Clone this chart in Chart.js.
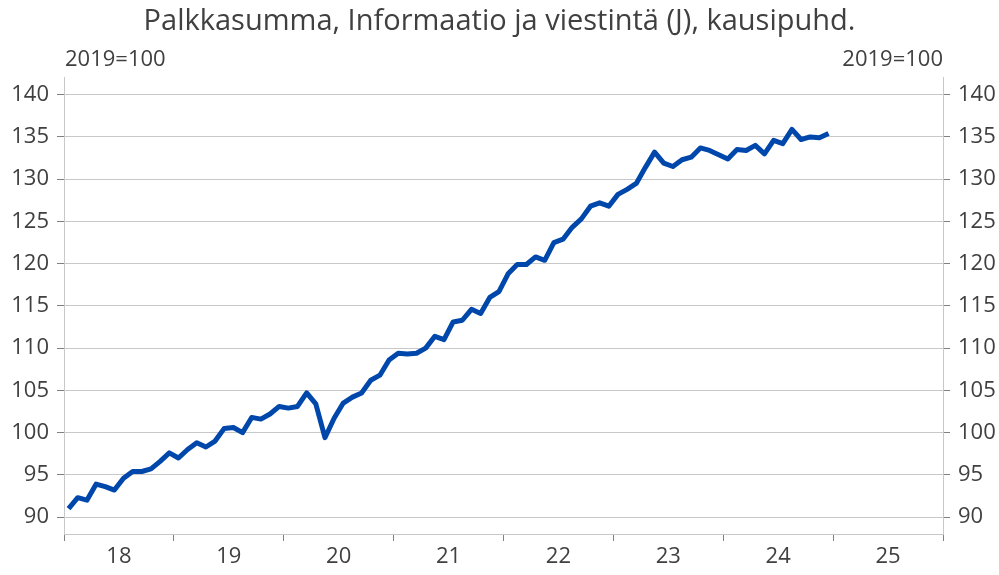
<!DOCTYPE html>
<html lang="fi">
<head>
  <meta charset="UTF-8">
  <title>Palkkasumma, Informaatio ja viestintä (J)</title>
  <script src="https://cdn.jsdelivr.net/npm/chart.js"></script>
  <style>
    html, body { margin: 0; padding: 0; background: #fff; }
    #wrap { width: 999px; height: 575px; }
  </style>
</head>
<body>
  <div id="wrap"><canvas id="palkkaChart" width="999" height="575"></canvas></div>

  <script>
    // monthly index values, Jan 2018 .. Dec 2024 (2019=100)
    const values = [
      91.0, 92.3, 92.0, 93.9, 93.6, 93.2, 94.6, 95.4, 95.4, 95.7, 96.6, 97.6,
      97.0, 98.0, 98.8, 98.3, 99.0, 100.5, 100.6, 100.0, 101.8, 101.6, 102.2, 103.1,
      102.9, 103.1, 104.7, 103.4, 99.4, 101.7, 103.5, 104.2, 104.7, 106.2, 106.8, 108.6,
      109.4, 109.3, 109.4, 110.0, 111.4, 111.0, 113.1, 113.3, 114.6, 114.1, 116.0, 116.7,
      118.8, 119.9, 119.9, 120.8, 120.4, 122.5, 122.9, 124.3, 125.3, 126.8, 127.2, 126.8,
      128.2, 128.8, 129.5, 131.4, 133.2, 131.9, 131.5, 132.3, 132.6, 133.7, 133.4, 132.9,
      132.4, 133.5, 133.4, 134.0, 133.0, 134.6, 134.2, 135.9, 134.7, 135.0, 134.9, 135.4
    ];
    const yearLabels = ['18', '19', '20', '21', '22', '23', '24', '25'];
    const yTicks = [90, 95, 100, 105, 110, 115, 120, 125, 130, 135, 140];
    const baseLabel = '2019=100';
    const title = 'Palkkasumma, Informaatio ja viestintä (J), kausipuhd.';

    const textColor = '#404040';
    const gridColor = '#c8c8c8';
    const fontFamily = '"Open Sans", sans-serif';

    const points = values.map((v, i) => ({ x: i + 0.5, y: v }));
    const nMonths = yearLabels.length * 12;

    const baseLabelPlugin = {
      id: 'baseLabel',
      afterDraw(chart) {
        const c = chart.ctx;
        const area = chart.chartArea;
        c.save();
        c.font = '22px ' + fontFamily;
        c.fillStyle = textColor;
        c.textBaseline = 'middle';
        c.textAlign = 'left';
        c.fillText(baseLabel, area.left + 1, 60);
        c.textAlign = 'right';
        c.fillText(baseLabel, area.right, 60);
        c.restore();
      }
    };

    const yTickSetter = scale => { scale.ticks = yTicks.map(v => ({ value: v })); };

    new Chart(document.getElementById('palkkaChart'), {
      type: 'line',
      data: {
        datasets: [{
          data: points,
          borderColor: '#0047ab',
          borderWidth: 5,
          pointRadius: 0,
          tension: 0,
          borderJoinStyle: 'round',
          borderCapStyle: 'butt'
        }]
      },
      options: {
        responsive: false,
        animation: false,
        layout: { padding: { left: 0, right: 0, top: 0, bottom: 0 } },
        plugins: {
          legend: { display: false },
          tooltip: { enabled: false },
          title: {
            display: true,
            text: title,
            color: textColor,
            font: { family: fontFamily, size: 29, weight: 'normal', lineHeight: 1.2 },
            padding: { top: 4, bottom: 39 }
          }
        },
        scales: {
          x: {
            type: 'linear',
            min: 0,
            max: nMonths,
            afterBuildTicks: scale => {
              const t = [];
              for (let m = 0; m <= nMonths; m += 6) t.push({ value: m });
              scale.ticks = t;
            },
            afterFit: scale => { scale.height = 41; },
            ticks: {
              autoSkip: false,
              maxRotation: 0,
              color: textColor,
              font: { family: fontFamily, size: 22 },
              padding: 3,
              callback: v => (v % 12 === 6 ? yearLabels[(v - 6) / 12] : '')
            },
            grid: {
              drawOnChartArea: false,
              drawTicks: true,
              tickLength: 7,
              tickColor: ctx => (ctx.tick && ctx.tick.value % 12 === 0 ? '#808080' : 'rgba(0,0,0,0)')
            },
            border: { display: true, color: gridColor, width: 1 }
          },
          y: {
            position: 'left',
            min: 88,
            max: 142,
            afterBuildTicks: yTickSetter,
            afterFit: scale => { scale.width = 64; },
            ticks: {
              color: textColor,
              font: { family: fontFamily, size: 22 },
              padding: 8
            },
            grid: {
              color: gridColor,
              tickLength: 7,
              tickColor: '#808080'
            },
            border: { display: true, color: gridColor }
          },
          y1: {
            position: 'right',
            min: 88,
            max: 142,
            afterBuildTicks: yTickSetter,
            afterFit: scale => { scale.width = 56; },
            ticks: {
              color: textColor,
              font: { family: fontFamily, size: 22 },
              padding: 8
            },
            grid: {
              drawOnChartArea: false,
              tickLength: 7,
              tickColor: '#808080'
            },
            border: { display: true, color: gridColor }
          }
        }
      },
      plugins: [baseLabelPlugin]
    });
  </script>
</body>
</html>
